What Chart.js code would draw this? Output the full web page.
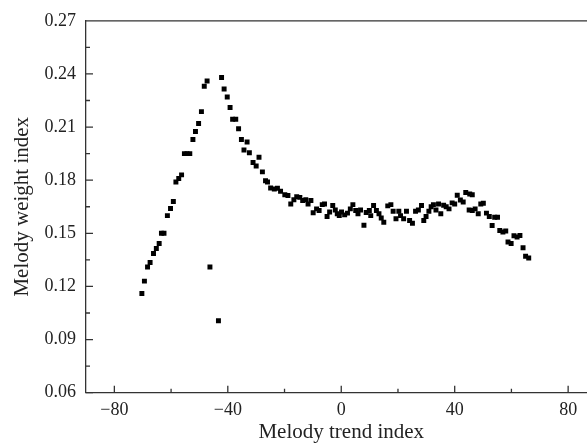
<!DOCTYPE html>
<html>
<head>
<meta charset="utf-8">
<script src="https://cdn.jsdelivr.net/npm/chart.js@4.4.1/dist/chart.umd.min.js"></script>
<style>
  html, body { margin: 0; padding: 0; overflow: hidden; background: #fff; }
  #wrap { width: 600px; height: 444px; }
</style>
</head>
<body>
<div id="wrap"><canvas id="chart"></canvas></div>
<script>
// values
const trendIndex = [
  -70.3, -69.4, -68.3, -67.4, -66.2, -65.2, -64.2, -63.4, -62.5, -61.3,
  -60.2, -59.2, -58.3, -57.3, -56.3, -55.3, -54.4, -53.4, -52.3, -51.4,
  -50.3, -49.3, -48.3, -47.3, -46.3, -43.3, -42.2, -41.3, -40.2, -39.2,
  -38.3, -37.2, -36.2, -35.2, -34.3, -33.2, -32.4, -31.1, -30.0, -29.0,
  -27.8, -26.7, -26.0, -24.9, -23.6, -22.5, -21.4, -19.9, -18.8, -17.8,
  -16.7, -15.7, -14.6, -13.6, -12.5, -11.7, -10.7, -9.9, -8.7, -7.8,
  -6.7, -5.9, -5.0, -4.1, -3.0, -2.1, -1.4, -0.7, 0.1, 1.2,
  2.2, 3.2, 4.1, 5.1, 5.9, 6.8, 8.0, 8.8, 9.9, 10.4,
  11.4, 12.4, 13.3, 14.1, 15.0, 16.4, 17.5, 18.3, 19.3, 20.3,
  20.9, 22.0, 23.0, 24.1, 25.1, 26.2, 27.2, 28.3, 29.1, 29.9,
  30.9, 31.7, 32.5, 33.4, 34.3, 35.1, 36.1, 37.0, 38.0, 39.1,
  40.0, 40.9, 42.0, 43.0, 43.9, 45.3, 46.2, 45.1, 46.2, 47.2,
  48.3, 49.2, 50.1, 51.2, 52.2, 53.2, 54.1, 55.1, 55.9, 57.0,
  58.0, 58.8, 59.9, 60.9, 62.0, 63.0, 64.1, 65.0, 66.1
];
const weightIndex = [
  0.116, 0.123, 0.131, 0.1335, 0.1386, 0.1414, 0.1442, 0.150, 0.150, 0.160,
  0.164, 0.168, 0.179, 0.181, 0.183, 0.195, 0.195, 0.195, 0.203, 0.2075,
  0.212, 0.2187, 0.233, 0.236, 0.131, 0.1006, 0.238, 0.2315, 0.227, 0.221,
  0.2144, 0.2144, 0.209, 0.203, 0.197, 0.2016, 0.1955, 0.190, 0.188, 0.193,
  0.1847, 0.1797, 0.179, 0.1756, 0.175, 0.1754, 0.1737, 0.1718, 0.1713, 0.1666,
  0.169, 0.1707, 0.1703, 0.1685, 0.169, 0.1666, 0.1685, 0.1616, 0.1638, 0.1629,
  0.1662, 0.1666, 0.1595, 0.162, 0.1657, 0.1632, 0.161, 0.160, 0.162, 0.1604,
  0.1614, 0.1638, 0.1662, 0.1629, 0.161, 0.1632, 0.1546, 0.1617, 0.1629, 0.160,
  0.1657, 0.1629, 0.161, 0.1587, 0.1563, 0.1655, 0.1662, 0.1625, 0.1582, 0.1625,
  0.160, 0.1582, 0.1625, 0.1572, 0.1557, 0.1625, 0.1632, 0.1657, 0.1572, 0.1595,
  0.1625, 0.165, 0.1662, 0.1632, 0.1666, 0.161, 0.1659, 0.165, 0.1638, 0.1672,
  0.1666, 0.1715, 0.1688, 0.1677, 0.1731, 0.1722, 0.1718, 0.1632, 0.1629, 0.1638,
  0.161, 0.1666, 0.167, 0.1614, 0.1595, 0.1544, 0.1591, 0.1591, 0.1516, 0.1507,
  0.1513, 0.1451, 0.1442, 0.1486, 0.1479, 0.1488, 0.1419, 0.137, 0.1361
];

const xTicks = [-80, -40, 0, 40, 80];
const xMinorTicks = [-60, -20, 20, 60];
const yTicks = [0.06, 0.09, 0.12, 0.15, 0.18, 0.21, 0.24, 0.27];
const yMinorTicks = [0.075, 0.105, 0.135, 0.165, 0.195, 0.225, 0.255];

const points = trendIndex.map((x, i) => ({ x: x, y: weightIndex[i] }));

const axisColor = "#333";
const textColor = "#222";
const serif = "'Liberation Serif', 'Times New Roman', serif";

// inward ticks plus the top/right frame lines
const frameTicks = {
  id: "frameTicks",
  afterDraw(chart) {
    const { ctx, chartArea: a, scales } = chart;
    ctx.save();
    ctx.strokeStyle = axisColor;
    ctx.lineWidth = 1.3;
    ctx.beginPath();
    ctx.moveTo(a.left, a.top);
    ctx.lineTo(a.right, a.top);
    ctx.lineTo(a.right, a.bottom);
    const xt = (vals, len) => vals.forEach((v) => {
      const px = scales.x.getPixelForValue(v);
      ctx.moveTo(px, a.bottom);
      ctx.lineTo(px, a.bottom - len);
    });
    const yt = (vals, len) => vals.forEach((v) => {
      const py = scales.y.getPixelForValue(v);
      ctx.moveTo(a.left, py);
      ctx.lineTo(a.left + len, py);
    });
    xt(xTicks, 7);
    xt(xMinorTicks, 4);
    yt(yTicks, 7);
    yt(yMinorTicks, 4);
    ctx.stroke();
    ctx.restore();
  }
};

new Chart(document.getElementById("chart"), {
  type: "scatter",
  data: {
    datasets: [{
      data: points,
      backgroundColor: "#000",
      borderColor: "#000",
      borderWidth: 0,
      pointStyle: "rect",
      pointRadius: 3.5,
      pointHoverRadius: 3.5
    }]
  },
  options: {
    responsive: true,
    maintainAspectRatio: false,
    animation: false,
    layout: { padding: { top: 20, right: 1.5, left: 0, bottom: 0 } },
    plugins: {
      legend: { display: false },
      tooltip: { enabled: false }
    },
    scales: {
      x: {
        type: "linear",
        min: -90,
        max: 90,
        afterBuildTicks: (s) => { s.ticks = xTicks.map((v) => ({ value: v })); },
        afterFit: (s) => { s.height = 51.3; },
        grid: { display: false, drawTicks: false },
        border: { display: true, color: axisColor, width: 1.3 },
        ticks: {
          padding: 7,
          color: textColor,
          font: { family: serif, size: 18 },
          callback: (v) => String(v).replace("-", "\u2212")
        },
        title: {
          display: true,
          text: "Melody trend index",
          color: textColor,
          padding: 0,
          font: { family: serif, size: 21, lineHeight: 1.05 }
        }
      },
      y: {
        type: "linear",
        min: 0.06,
        max: 0.27,
        afterBuildTicks: (s) => { s.ticks = yTicks.map((v) => ({ value: v })); },
        afterFit: (s) => { s.width = 86; },
        grid: { display: false, drawTicks: false },
        border: { display: true, color: axisColor, width: 1.3 },
        ticks: {
          padding: 10,
          color: textColor,
          font: { family: serif, size: 18 },
          callback: (v) => Number(v).toFixed(2)
        },
        title: {
          display: true,
          text: "Melody weight index",
          color: textColor,
          padding: { top: 11, bottom: 0 },
          font: { family: serif, size: 21, lineHeight: 1.05 }
        }
      }
    }
  },
  plugins: [frameTicks]
});
</script>
</body>
</html>
